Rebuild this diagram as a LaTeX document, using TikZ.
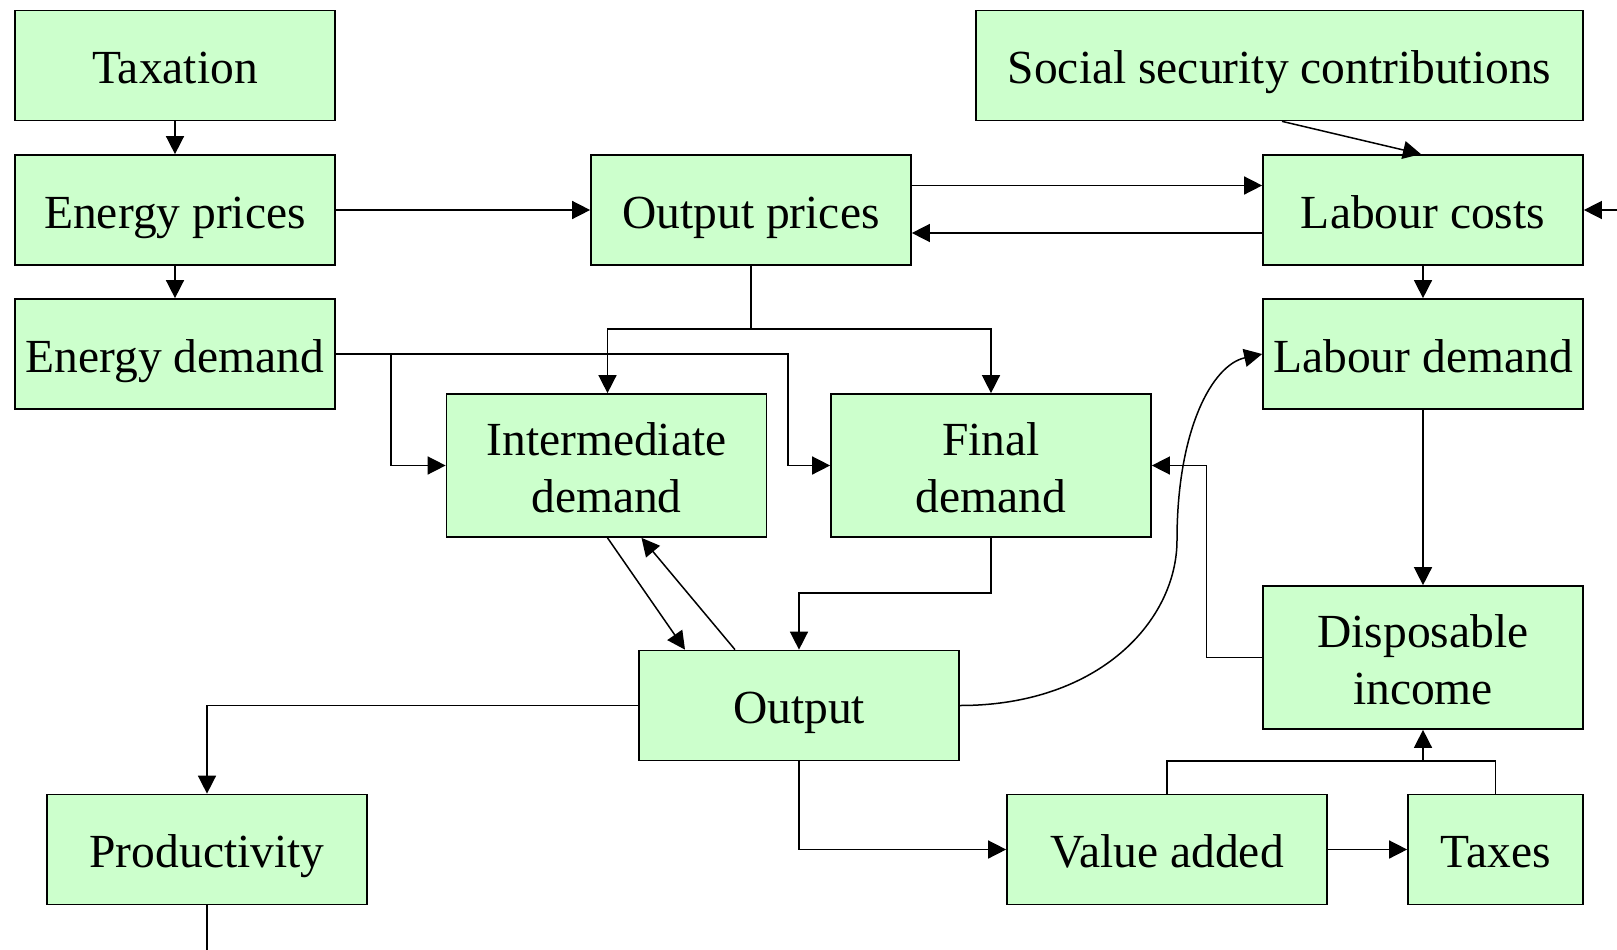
\documentclass[tikz,border=0pt]{standalone}
\usepackage{fontspec}
\setmainfont{Liberation Serif}
\usetikzlibrary{arrows.meta}
\newcommand{\topstrut}{\rule{0pt}{47pt}}
\newcommand{\botstrut}{\rule[-11pt]{0pt}{11pt}}
\begin{document}
\begin{tikzpicture}[x=1pt,y=-1pt,
  basebox/.style={draw=black, line width=1.7pt, fill=boxgreen, minimum width=320pt,
    inner sep=0pt, font=\fontsize{47.5}{57}\selectfont},
  box/.style={basebox, minimum height=110pt, text height=47pt, text depth=11pt},
  tall/.style={basebox, minimum height=143pt, align=center},
  conn/.style={line width=1.5pt, -{Triangle[length=18pt,width=18pt]}},
  plain/.style={line width=1.5pt}]
\definecolor{boxgreen}{RGB}{204,255,204}
\useasboundingbox (0,0) rectangle (1617,950);

\node[box] (tax) at (175,65.5) {Taxation};
\node[box] (ep) at (175,210) {Energy prices};
\node[box] (ed) at (175,354) {Energy demand};
\node[box] (op) at (751,210) {Output prices};
\node[box, minimum width=607pt] (ssc) at (1279.5,65.5) {Social security contributions};
\node[box] (lc) at (1423,210) {Labour costs};
\node[box] (ld) at (1423,354) {Labour demand};
\node[tall] (id) at (606.5,465.5) {\topstrut Intermediate\\demand\botstrut};
\node[tall] (fd) at (991,465.5) {\topstrut Final\\demand\botstrut};
\node[box] (out) at (799,705.5) {Output};
\node[tall] (di) at (1423,657.5) {\topstrut Disposable\\income\botstrut};
\node[box] (prod) at (207,849.5) {Productivity};
\node[box] (va) at (1167,849.5) {Value added};
\node[box, minimum width=175pt] (taxes) at (1495.5,849.5) {Taxes};

\coordinate (rightfree) at (1617,210);
\coordinate (bottomfree) at (207,950);

\draw[conn] (tax) -- (ep);
\draw[conn] (ep) -- (ed);
\draw[conn] (ep) -- (op);
\draw[conn] ([yshift=24.5pt]op.east) -- ([yshift=24.5pt]lc.west);
\draw[conn] ([yshift=-23pt]lc.west) -- ([yshift=-23pt]op.east);
\draw[conn] ([xshift=2.5pt]ssc.south) -- ([xshift=-2pt]lc.north);
\draw[conn] (rightfree) -- (lc.east);
\draw[conn] (lc) -- (ld);

\draw[plain] (op.south) -- (751,329);
\draw[conn] (751,329) -| ([xshift=1pt]id.north);
\draw[conn] (751,329) -| (fd.north);

\draw[conn] (ed.east) -- (788,354) |- (fd.west);
\draw[conn] (391,354) |- (id.west);

\draw[conn] ([xshift=1pt]id.south) -- ([xshift=-114pt]out.north);
\draw[conn] ([xshift=-64pt]out.north) -- ([xshift=35pt]id.south);

\draw[conn] (fd.south) -- (991,593) -| (out.north);
\draw[conn] (out.west) -| (prod.north);
\draw[plain] (prod.south) -- (bottomfree);
\draw[conn] (out.south) |- (va.west);
\draw[conn] (va) -- (taxes);
\draw[plain] (va.north) -- (1167,761) -| (taxes.north);
\draw[conn] (1423,761) -- (di.south);
\draw[conn] (ld) -- (di);
\draw[conn] (di.west) -- (1206.6,657.5) |- (fd.east);

\draw[conn] (out.east) .. controls (1100,705.5) and (1177,620) .. (1177,540)
  .. controls (1177,430) and (1212,365) .. (ld.west);
\end{tikzpicture}
\end{document}
